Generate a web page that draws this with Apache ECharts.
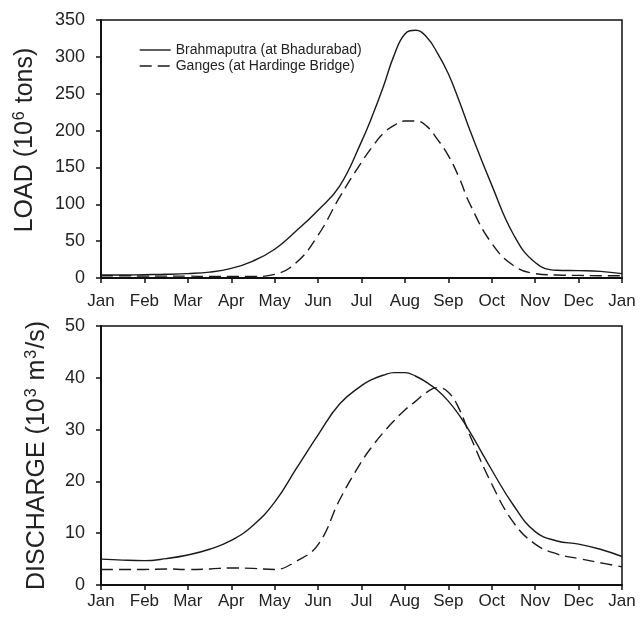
<!DOCTYPE html>
<html>
<head>
<meta charset="utf-8">
<script src="https://cdn.jsdelivr.net/npm/echarts@6/dist/echarts.min.js"></script>
<style>
    html, body { margin: 0; padding: 0; background: #fff; }
    #chart { width: 641px; height: 622px; }
</style>
</head>
<body>
<div id="chart"></div>
<script>
    // month tick labels, position 0 = Jan ... 12 = next Jan
    var monthLabels = ['Jan', 'Feb', 'Mar', 'Apr', 'May', 'Jun', 'Jul', 'Aug', 'Sep', 'Oct', 'Nov', 'Dec', 'Jan'];

    var seriesNames = ['Brahmaputra (at Bhadurabad)', 'Ganges (at Hardinge Bridge)'];

    // LOAD (10^6 tons)
    var loadMonthsB = [0, 0.5, 1, 1.5, 2, 2.5, 3, 3.5, 4, 4.5, 5, 5.5, 6, 6.25, 6.5, 6.75, 7, 7.25, 7.5, 7.75, 8, 8.25, 8.5, 9, 9.5, 10, 10.5, 11, 11.5, 12];
    var loadB = [4, 4, 4.5, 5, 6, 8, 13, 23, 39, 64, 92, 125, 185, 220, 259, 302, 331, 336, 327, 305, 277, 240, 200, 126, 59, 21, 10.5, 10, 9, 6];
    var loadMonthsG = [0, 0.5, 1, 1.5, 2, 2.5, 3, 3.5, 4, 4.5, 5, 5.5, 6, 6.25, 6.5, 6.75, 7, 7.25, 7.5, 7.75, 8, 8.25, 8.5, 9, 9.5, 10, 10.5, 11, 11.5, 12];
    var loadG = [3, 3, 2.5, 2.5, 2.5, 2, 2, 2, 5, 21, 58, 110, 157, 178, 196, 207, 213, 213, 206, 188, 166, 136, 100, 47, 17, 6, 4, 3.5, 3, 3];

    // DISCHARGE (10^3 m3/s)
    var dischMonthsB = [0, 0.5, 1, 1.5, 2, 2.5, 3, 3.5, 4, 4.5, 5, 5.5, 6, 6.25, 6.5, 6.75, 7, 7.25, 7.5, 7.75, 8, 8.25, 8.5, 9, 9.5, 10, 10.5, 11, 11.5, 12];
    var dischB = [5.0, 4.8, 4.7, 5.1, 5.8, 6.9, 8.6, 11.5, 16, 22.5, 29, 35, 38.5, 39.7, 40.5, 41.0, 41.0, 40.3, 39.1, 37.6, 35.5, 32.8, 29.5, 22.2, 15.4, 10.3, 8.5, 7.9, 6.9, 5.5];
    var dischMonthsG = [0, 0.5, 1, 1.5, 2, 2.5, 3, 3.5, 4, 4.5, 5, 5.5, 6, 6.25, 6.5, 6.75, 7, 7.25, 7.5, 7.75, 8, 8.25, 8.5, 9, 9.5, 10, 10.5, 11, 11.5, 12];
    var dischG = [3.0, 3.0, 3.0, 3.1, 3.0, 3.1, 3.3, 3.2, 3.0, 4.6, 7.8, 16.5, 23.8, 26.8, 29.4, 31.7, 33.8, 35.5, 37.2, 38.1, 37.2, 34, 28.8, 19.5, 12.1, 7.9, 6.0, 5.1, 4.3, 3.5];

    var lineColor = '#1a1a1a';
    var axisColor = '#111';
    var fontName = 'Liberation Sans, Arial, sans-serif';
    var dashPattern = [12, 6];

    function pairs(xs, ys){
        return xs.map(function (x, i) { return [x, ys[i]]; });
    }

    function xAxisCfg(gridIndex, labelMargin){
        return {
            type: 'value',
            gridIndex: gridIndex,
            min: 0,
            max: 12,
            interval: 1,
            axisLine: { onZero: false, lineStyle: { color: axisColor, width: 2 } },
            axisTick: { inside: false, length: 5, lineStyle: { color: axisColor, width: 1.5 } },
            splitLine: { show: false },
            axisLabel: {
                margin: labelMargin,
                fontSize: 17,
                fontFamily: fontName,
                color: '#222',
                formatter: function (val) { return monthLabels[val]; }
            }
        };
    }

    function yAxisCfg(gridIndex, max, step, name, gap, shift){
        return {
            type: 'value',
            gridIndex: gridIndex,
            min: 0,
            max: max,
            interval: step,
            name: name,
            nameLocation: 'middle',
            nameGap: gap,
            nameTextStyle: {
                color: '#222',
                padding: [0, 0, 0, shift],
                rich: {
                    a: { fontSize: 25, fontFamily: fontName, color: '#222', verticalAlign: 'bottom' },
                    s: { fontSize: 16, fontFamily: fontName, color: '#222', verticalAlign: 'bottom', padding: [0, 1, 10, 1] }
                }
            },
            axisLine: { lineStyle: { color: axisColor, width: 2 } },
            axisTick: { inside: false, length: 5, lineStyle: { color: axisColor, width: 1.5 } },
            splitLine: { show: false },
            axisLabel: {
                margin: 16,
                fontSize: 18,
                fontFamily: fontName,
                color: '#222'
            }
        };
    }

    function lineSeries(name, idx, data, dashed){
        return {
            name: name,
            type: 'line',
            xAxisIndex: idx,
            yAxisIndex: idx,
            data: data,
            symbol: 'none',
            smooth: 0.45,
            lineStyle: {
                color: lineColor,
                width: 1.4,
                type: dashed ? dashPattern : 'solid'
            },
            itemStyle: { color: lineColor }
        };
    }

    var myChart = echarts.init(document.getElementById('chart'));
    var option = {
        animation: false,
        backgroundColor: '#fff',
        legend: {
            data: [
                { name: seriesNames[0], lineStyle: { type: 'solid' } },
                { name: seriesNames[1], lineStyle: { type: dashPattern } }
            ],
            orient: 'vertical',
            left: 134,
            top: 38,
            itemWidth: 31,
            itemHeight: 14,
            itemGap: 2,
            itemStyle: { color: 'transparent', borderColor: 'transparent', borderWidth: 0 },
            lineStyle: { color: lineColor, width: 1.4 },
            textStyle: { fontSize: 14, fontFamily: fontName, color: '#222' }
        },
        grid: [
            { left: 101, right: 19, top: 20, height: 258, show: true, borderColor: axisColor, borderWidth: 1.5 },
            { left: 101, right: 19, top: 326, height: 259, show: true, borderColor: axisColor, borderWidth: 1.5 }
        ],
        xAxis: [xAxisCfg(0, 15), xAxisCfg(1, 8)],
        yAxis: [
            yAxisCfg(0, 350, 50, '{a|LOAD (10}{s|6}{a| tons)}', 63, 18),
            yAxisCfg(1, 50, 10, '{a|DISCHARGE (10}{s|3}{a| m}{s|3}{a|/s)}', 51, 0)
        ],
        series: [
            lineSeries(seriesNames[0], 0, pairs(loadMonthsB, loadB), false),
            lineSeries(seriesNames[1], 0, pairs(loadMonthsG, loadG), true),
            lineSeries(seriesNames[0], 1, pairs(dischMonthsB, dischB), false),
            lineSeries(seriesNames[1], 1, pairs(dischMonthsG, dischG), true)
        ]
    };
    myChart.setOption(option, true);
</script>
</body>
</html>
